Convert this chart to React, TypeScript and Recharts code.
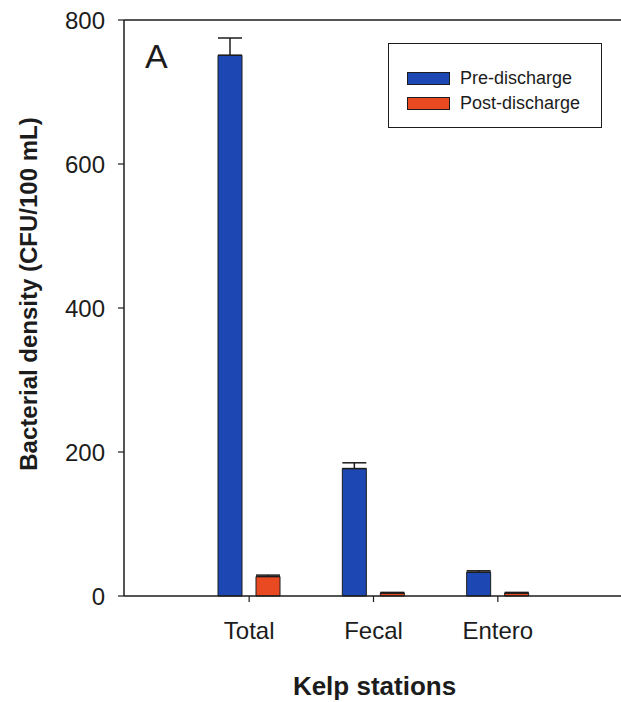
import {
  Bar,
  BarChart,
  ErrorBar,
  ReferenceLine,
  XAxis,
  YAxis,
} from "recharts";

const stations = ["Total", "Fecal", "Entero"];
const preDischarge = [751, 177, 33];
const preDischargeErr = [24, 8, 2];
const postDischarge = [27, 4, 4];
const postDischargeErr = [2, 1, 1];
const yTicks = [0, 200, 400, 600, 800];

const PRE_COLOR = "#1d47b3";
const POST_COLOR = "#ea4a22";
const INK = "#1c1c1c";
const FONT = "'Liberation Sans', Arial, sans-serif";

const data = stations.map((station, i) => ({
  station,
  pre: preDischarge[i],
  preErr: [0, preDischargeErr[i]],
  post: postDischarge[i],
  postErr: [0, postDischargeErr[i]],
}));

type ViewBox = { x?: number; y?: number; width?: number; height?: number };

function YTitle({ viewBox }: { viewBox?: ViewBox }) {
  const x = (viewBox?.x ?? 0) + 28;
  const y = (viewBox?.y ?? 0) + (viewBox?.height ?? 0) / 2 - 14;
  return (
    <text
      x={x}
      y={y}
      transform={`rotate(-90, ${x}, ${y})`}
      textAnchor="middle"
      dominantBaseline="central"
      fontFamily={FONT}
      fontWeight={700}
      fontSize={24}
      fill={INK}
    >
      Bacterial density (CFU/100 mL)
    </text>
  );
}

function XTitle({ viewBox }: { viewBox?: ViewBox }) {
  const x = (viewBox?.x ?? 0) + (viewBox?.width ?? 0) / 2 + 2;
  const y = (viewBox?.y ?? 0) + 99;
  return (
    <text
      x={x}
      y={y}
      textAnchor="middle"
      fontFamily={FONT}
      fontWeight={700}
      fontSize={26}
      fill={INK}
    >
      Kelp stations
    </text>
  );
}

function PanelLetter({ viewBox }: { viewBox?: ViewBox }) {
  return (
    <text
      x={(viewBox?.x ?? 0) + 21}
      y={(viewBox?.y ?? 0) + 48}
      fontFamily={FONT}
      fontSize={34}
      fill={INK}
    >
      A
    </text>
  );
}

const legendItems = [
  { label: "Pre-discharge", color: PRE_COLOR },
  { label: "Post-discharge", color: POST_COLOR },
];

// drawn over the chart so it doesn't eat into the plot area
function LegendBox() {
  return (
    <div
      style={{
        position: "absolute",
        left: 388,
        top: 43,
        width: 214,
        height: 85,
        boxSizing: "border-box",
        border: `1.5px solid ${INK}`,
        background: "#fff",
        paddingTop: 22,
        paddingLeft: 18,
        fontFamily: FONT,
        fontSize: 18,
        color: INK,
      }}
    >
      {legendItems.map((item) => (
        <div
          key={item.label}
          style={{ display: "flex", alignItems: "center", height: 25 }}
        >
          <span
            style={{
              width: 43,
              height: 13,
              boxSizing: "border-box",
              background: item.color,
              border: `1px solid ${INK}`,
              marginRight: 10,
            }}
          />
          <span>{item.label}</span>
        </div>
      ))}
    </div>
  );
}

export default function App() {
  return (
    <div style={{ position: "absolute", left: 0, top: 0, background: "#fff" }}>
      <BarChart
        width={621}
        height={702}
        data={data}
        margin={{ top: 20, right: 0, bottom: 0, left: 0 }}
        barSize={24}
        barGap={14}
      >
        <XAxis
          dataKey="station"
          height={106}
          padding={{ left: 63, right: 61 }}
          axisLine={{ stroke: INK, strokeWidth: 1.5 }}
          tickLine={{ stroke: INK, strokeWidth: 1.2 }}
          tickSize={6}
          tickMargin={20}
          tick={{ fill: INK, fontSize: 24, fontFamily: FONT }}
          label={<XTitle />}
        />
        <YAxis
          width={124}
          domain={[0, 800]}
          ticks={yTicks}
          interval={0}
          axisLine={{ stroke: INK, strokeWidth: 1.5 }}
          tickLine={{ stroke: INK, strokeWidth: 1.2 }}
          tickSize={6}
          tickMargin={13}
          tick={{ fill: INK, fontSize: 24, fontFamily: FONT }}
          label={<YTitle />}
        />
        <ReferenceLine y={800} stroke={INK} strokeWidth={1.5} label={<PanelLetter />} />
        <Bar
          dataKey="pre"
          name="Pre-discharge"
          fill={PRE_COLOR}
          stroke={INK}
          strokeWidth={1}
          isAnimationActive={false}
        >
          <ErrorBar dataKey="preErr" width={12} stroke={INK} strokeWidth={1.5} direction="y" />
        </Bar>
        <Bar
          dataKey="post"
          name="Post-discharge"
          fill={POST_COLOR}
          stroke={INK}
          strokeWidth={1}
          isAnimationActive={false}
        >
          <ErrorBar dataKey="postErr" width={12} stroke={INK} strokeWidth={1.5} direction="y" />
        </Bar>
      </BarChart>
      <LegendBox />
    </div>
  );
}
